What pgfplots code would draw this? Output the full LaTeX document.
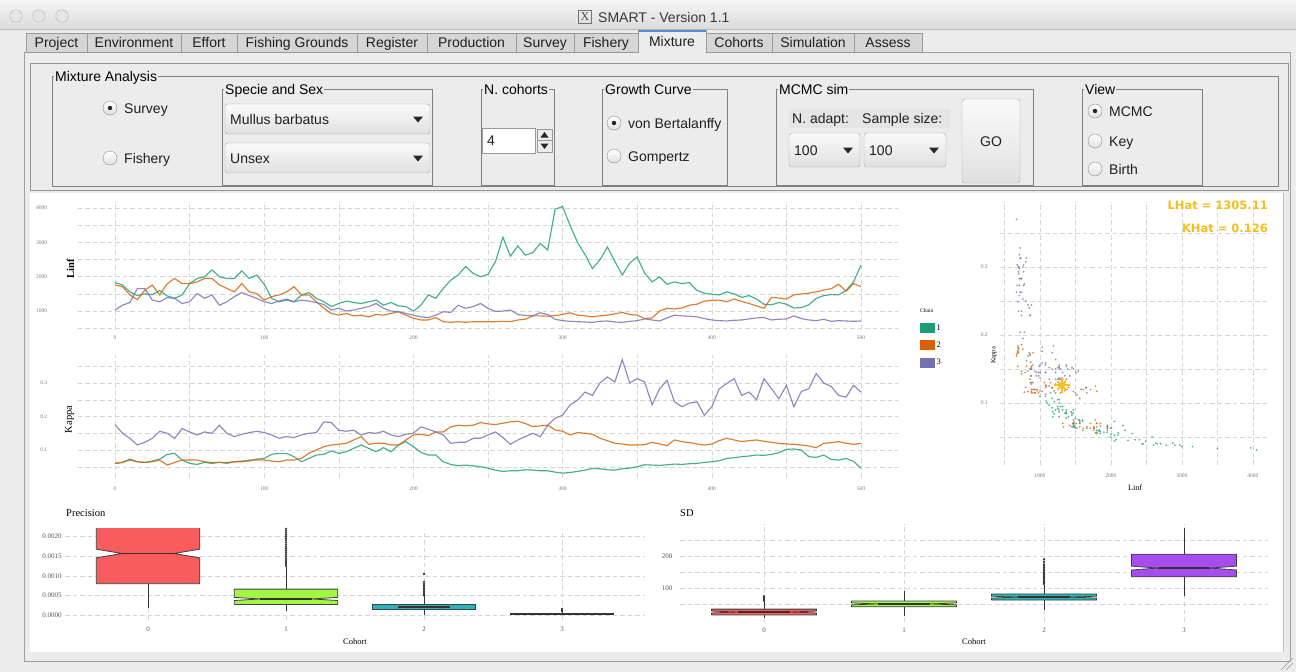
\documentclass[border=0pt]{standalone}
\usepackage{fontspec}
\setmainfont{Liberation Sans}
\newfontfamily\chartfont{Liberation Serif}
\newfontfamily\hatfont{DejaVu Sans}
\usepackage{pgfplots}
\usepackage{pgfplotstable}
\pgfplotsset{compat=1.18}

\definecolor{winbg}{HTML}{ECECEC}
\definecolor{cA}{HTML}{1B9E77}
\definecolor{cB}{HTML}{D95F02}
\definecolor{cC}{HTML}{7570B3}
\definecolor{gridc}{HTML}{D6D6D6}
\definecolor{tickc}{HTML}{7A7A7A}
\definecolor{hatc}{HTML}{F5BE19}
\definecolor{b0}{HTML}{F85C5C}
\definecolor{b1}{HTML}{A3F544}
\definecolor{b2}{HTML}{2CB5B5}
\definecolor{b3}{HTML}{A64DF0}
\definecolor{tabblue}{HTML}{4F8FDB}

\newcommand{\guif}{\fontsize{14}{16}\selectfont}
\newcommand{\gtext}[3]{\node[font=\guif, inner sep=0pt, anchor=base west, text=black!88] at ({#1},{-(#2)-5}) {#3};}
\newcommand{\gctext}[3]{\node[font=\guif, inner sep=0pt, anchor=base, text=black!88] at ({#1},{-(#2)-5}) {#3};}
\newcommand{\radio}[3]{\draw[black!45, top color=white, bottom color=black!12] (#1,-#2) circle (7);
  \ifnum#3=1 \fill[black!85] (#1,-#2) circle (2.2);\fi}
\newcommand{\combo}[5]{%
  \draw[black!35, rounded corners=3pt, top color=black!2, bottom color=black!12] (#1,-#2) rectangle (#3,-#4);
  \gtext{#1+5}{(#2+#4)/2}{#5}
  \fill[black!85] ({#3-17},{-(#2+#4)/2+2.5}) -- ({#3-7},{-(#2+#4)/2+2.5}) -- ({#3-12},{-(#2+#4)/2-3.5}) -- cycle;}

\pgfplotsset{
  gg/.style={
    scale only axis, axis line style={draw=none},
    major tick length=0pt, minor tick length=0pt,
    grid=both,
    major grid style={gridc, dash pattern=on 4.5pt off 3pt, line width=0.55pt},
    minor grid style={gridc, dash pattern=on 4.5pt off 3pt, line width=0.45pt},
    /pgf/number format/assume math mode=true,
    /pgf/number format/1000 sep={},
    tick label style={font=\chartfont\fontsize{5.5}{6}\selectfont, text=tickc},
  },
}

\pgfplotstableread{
it L1 L2 L3 K1 K2 K3
0 1835 1760 1030 0.060 0.060 0.176
5 1760 1710 1170 0.063 0.063 0.150
10 1560 1470 1250 0.073 0.070 0.135
15 1450 1330 1660 0.065 0.065 0.115
20 1500 1610 1650 0.063 0.063 0.123
25 1480 1760 1320 0.067 0.065 0.135
30 1600 1470 1270 0.073 0.070 0.156
35 1440 1800 1390 0.087 0.055 0.150
40 1370 1950 1370 0.090 0.063 0.135
45 1470 1800 1220 0.070 0.070 0.164
50 1800 1800 1270 0.060 0.070 0.154
55 1950 1850 1510 0.057 0.070 0.145
60 2000 1950 1370 0.063 0.065 0.154
65 2200 1950 1470 0.060 0.063 0.150
70 2000 1760 1170 0.063 0.063 0.174
75 1950 1660 1270 0.060 0.063 0.150
80 1950 1560 1420 0.065 0.065 0.140
85 2170 1800 1540 0.067 0.065 0.147
90 1950 1560 1450 0.067 0.070 0.152
95 2050 1510 1370 0.073 0.070 0.156
100 1780 1320 1270 0.075 0.070 0.152
105 1370 1420 1220 0.087 0.067 0.145
110 1270 1470 1290 0.090 0.065 0.135
115 1320 1560 1350 0.090 0.070 0.140
120 1270 1710 1270 0.080 0.070 0.137
125 1470 1470 1320 0.065 0.075 0.145
130 1540 1470 1290 0.075 0.090 0.150
135 1370 1270 1250 0.085 0.100 0.152
140 1270 1080 1190 0.087 0.110 0.184
145 1130 930 1030 0.097 0.115 0.182
150 1220 880 1080 0.090 0.117 0.159
155 1290 930 1000 0.095 0.120 0.156
160 1250 860 1030 0.105 0.130 0.159
165 1220 880 1080 0.115 0.140 0.145
170 1270 830 1130 0.105 0.117 0.152
175 1320 900 1220 0.095 0.120 0.150
180 1170 880 1080 0.107 0.120 0.156
185 1250 930 1000 0.095 0.115 0.145
190 1150 980 980 0.115 0.115 0.140
195 1130 880 930 0.125 0.130 0.147
200 1000 790 880 0.110 0.145 0.150
205 1170 740 830 0.093 0.147 0.169
210 1470 740 810 0.085 0.143 0.162
215 1370 810 880 0.085 0.154 0.154
220 1660 690 980 0.065 0.154 0.145
225 1900 670 960 0.057 0.169 0.120
230 2050 690 1170 0.053 0.174 0.123
235 2300 670 1080 0.055 0.172 0.123
240 2100 690 1130 0.053 0.174 0.135
245 2000 690 1220 0.050 0.182 0.135
250 2070 690 1080 0.046 0.178 0.145
255 2440 690 990 0.040 0.176 0.154
260 3150 700 1000 0.036 0.180 0.137
265 2600 690 1030 0.038 0.184 0.117
270 2900 740 900 0.038 0.186 0.130
275 2630 760 870 0.041 0.179 0.140
280 2700 860 860 0.040 0.170 0.150
285 2970 860 950 0.038 0.172 0.140
290 2780 850 900 0.038 0.174 0.174
295 3970 870 760 0.034 0.160 0.195
300 4050 900 720 0.031 0.156 0.204
305 3500 950 700 0.033 0.145 0.235
310 3000 880 690 0.036 0.152 0.249
315 2650 860 680 0.040 0.150 0.273
320 2240 830 670 0.045 0.147 0.263
325 2490 860 700 0.044 0.135 0.300
330 2870 880 710 0.041 0.128 0.318
335 2450 920 680 0.040 0.120 0.303
340 2050 960 670 0.044 0.118 0.370
345 2400 900 700 0.046 0.115 0.300
350 2580 880 720 0.050 0.115 0.313
355 2100 780 770 0.056 0.116 0.303
360 1850 800 740 0.055 0.123 0.235
365 2000 1000 710 0.054 0.118 0.283
370 1780 1080 800 0.056 0.113 0.308
375 1850 1060 880 0.058 0.130 0.244
380 1800 1090 860 0.057 0.125 0.229
385 1830 1170 850 0.059 0.122 0.240
390 1600 1200 830 0.060 0.118 0.244
395 1520 1290 780 0.063 0.115 0.204
400 1490 1310 740 0.065 0.118 0.229
405 1470 1320 720 0.068 0.128 0.283
410 1560 1270 710 0.075 0.135 0.298
415 1500 1350 730 0.077 0.130 0.313
420 1400 1280 740 0.080 0.125 0.263
425 1450 1220 770 0.082 0.128 0.273
430 1350 1150 800 0.085 0.130 0.250
435 1200 1080 810 0.084 0.126 0.313
440 1180 1400 740 0.087 0.123 0.283
445 1250 1380 760 0.092 0.120 0.253
450 1200 1350 770 0.102 0.118 0.293
455 1090 1470 860 0.103 0.117 0.229
460 1100 1500 780 0.100 0.115 0.275
465 1180 1520 740 0.080 0.112 0.283
470 1370 1560 720 0.078 0.107 0.328
475 1450 1610 760 0.085 0.120 0.300
480 1480 1650 700 0.072 0.122 0.290
485 1470 1780 720 0.070 0.125 0.263
490 1600 1580 710 0.075 0.120 0.258
495 1850 1800 700 0.066 0.117 0.293
500 2340 1710 710 0.046 0.120 0.273
}\chains

\begin{document}
\begin{tikzpicture}[x=1pt,y=1pt]
\useasboundingbox (0,0) rectangle (1296,-672);
\fill[winbg] (0,0) rectangle (1296,-672);
% title bar
\shade[top color=black!4, bottom color=black!14] (0,0) rectangle (1296,-29);
\draw[black!28] (0,-29.5) -- (1296,-29.5);
\foreach \cx in {16,39,62} {\draw[black!25, fill=black!10, line width=0.6pt] (\cx,-16) circle (6.2);}
\node[draw=black!55, line width=0.6pt, inner sep=0pt, minimum width=13pt, minimum height=13pt, font=\chartfont\fontsize{12}{12}\selectfont, text=black!70] at (585,-17) {X};
\node[anchor=base west, inner sep=0pt, font=\guif, text=black!78] at (598,-22) {SMART - Version 1.1};
% content panel
\draw[black!38, fill=winbg] (24,-52.5) rectangle (1290,-661);
% tabs
\foreach \a/\b/\t in {26/87/Project,87/181/Environment,181/237/Effort,237/357/Fishing Grounds,357/427/Register,427/516/Production,516/574/Survey,574/638/Fishery,706/772/Cohorts,772/854/Simulation,854/922/Assess}{
  \draw[black!40, fill=black!16] (\a,-33) rectangle (\b,-52.5);
  \gctext{(\a+\b)/2}{42.5}{\t}
}
\fill[winbg] (638,-30) rectangle (706,-53.5);
\draw[black!40] (638,-53) -- (638,-30) -- (706,-30) -- (706,-53);
\draw[tabblue, line width=1.6pt] (638.5,-30.8) -- (705.5,-30.8);
\gctext{672}{41.5}{Mixture}
% control frames
\draw[black!42] (30,-63) rectangle (1288,-190);
\draw[black!50] (52,-76) rectangle (1278,-186);
\node[fill=winbg, inner sep=1pt, anchor=base west, font=\guif] at (54,-81) {Mixture Analysis};
\foreach \a/\b/\t in {222/432/Specie and Sex,481/554/N. cohorts,602/727/Growth Curve,776/1033/MCMC sim,1082/1202/View}{
  \draw[black!50] (\a,-89.5) rectangle (\b,-185);
  \node[fill=winbg, inner sep=1pt, anchor=base west, font=\guif] at ({\a+2},-94.5) {\t};
}
\radio{110}{108}{1}\gtext{124}{108}{Survey}
\radio{110}{158}{0}\gtext{124}{158}{Fishery}
\radio{614}{123}{1}\gtext{628}{123}{von Bertalanffy}
\radio{614}{156}{0}\gtext{628}{156}{Gompertz}
\radio{1095}{111}{1}\gtext{1109}{111}{MCMC}
\radio{1095}{141}{0}\gtext{1109}{141}{Key}
\radio{1095}{169}{0}\gtext{1109}{169}{Birth}
\combo{225}{104}{430}{134}{Mullus barbatus}
\combo{225}{143}{430}{173}{Unsex}
\combo{789}{133}{860}{167}{100}
\combo{864}{133}{946}{167}{100}
% spinner
\draw[black!40, fill=white] (482,-128) rectangle (535,-153);
\gtext{487}{140.5}{4}
\draw[black!40, fill=black!8] (537,-129) rectangle (552,-140.5);
\draw[black!40, fill=black!8] (537,-140.5) rectangle (552,-152);
\fill[black!85] (540.5,-137.5) -- (548.5,-137.5) -- (544.5,-132) -- cycle;
\fill[black!85] (540.5,-143.5) -- (548.5,-143.5) -- (544.5,-149) -- cycle;
% MCMC sim labels and GO
\fill[black!10] (789,-109) rectangle (950,-128);
\gtext{792}{118.5}{N. adapt:}
\gtext{862}{118.5}{Sample size:}
\draw[black!35, rounded corners=3pt, top color=black!2, bottom color=black!12] (962,-99) rectangle (1020,-183);
\gctext{991}{141}{GO}
% plot area
\fill[white] (30,-193) rectangle (1283,-652);
\draw[black!25] (1283,-193) -- (1283,-652);
\draw[black!40] (1281,-670) -- (1293,-658) (1286,-670) -- (1293,-663);

% ---------- Linf trace ----------
\begin{axis}[gg, at={(77.7pt,-329.9pt)}, anchor=south west, width=820.6pt, height=127.9pt,
  xmin=-25, xmax=525, ymin=450, ymax=4180,
  xtick={0,100,...,500}, minor xtick={50,150,250,350,450},
  ytick={1000,2000,3000,4000}, minor ytick={500,1500,2500,3500},
  yticklabel shift=27pt, xticklabel shift=2pt,
  ylabel={\bfseries Linf},
  ylabel style={at={(axis description cs:0,0.5)}, anchor=south, xshift=-3pt, font=\chartfont\fontsize{10.5}{11}\selectfont},
  legend style={at={(axis description cs:1.0264,0.054)}, anchor=north west, draw=none, fill=none,
    font=\chartfont\fontsize{8.5}{9}\selectfont, row sep=7pt, inner sep=0pt, nodes={inner sep=1.5pt}},
  legend cell align=left,
  legend image code/.code={\fill[#1] (0pt,-5pt) rectangle (15pt,5pt);}]
\addlegendimage{fill=cA, draw=none}\addlegendentry{1}
\addlegendimage{fill=cB, draw=none}\addlegendentry{2}
\addlegendimage{fill=cC, draw=none}\addlegendentry{3}
\addplot[forget plot, cA, opacity=0.82, line width=1.15pt] table[x=it,y=L1] {\chains};
\addplot[forget plot, cB, opacity=0.82, line width=1.15pt] table[x=it,y=L2] {\chains};
\addplot[forget plot, cC, opacity=0.82, line width=1.15pt] table[x=it,y=L3] {\chains};
\end{axis}
\node[anchor=west, inner sep=0pt, font=\chartfont\fontsize{5.5}{6}\selectfont] at (920,-311) {Chain};

% ---------- Kappa trace ----------
\begin{axis}[gg, at={(77.7pt,-477.8pt)}, anchor=south west, width=820.6pt, height=122.9pt,
  xmin=-25, xmax=525, ymin=0.017, ymax=0.384,
  xtick={0,100,...,500}, minor xtick={50,150,250,350,450},
  ytick={0.1,0.2,0.3}, minor ytick={0.05,0.15,0.25,0.35},
  yticklabel shift=27pt, xticklabel shift=6pt,
  ylabel={Kappa},
  ylabel style={at={(axis description cs:0,0.5)}, anchor=south, xshift=-3pt, font=\chartfont\fontsize{10.5}{11}\selectfont}]
\addplot[cA, opacity=0.82, line width=1.15pt] table[x=it,y=K1] {\chains};
\addplot[cB, opacity=0.82, line width=1.15pt] table[x=it,y=K2] {\chains};
\addplot[cC, opacity=0.82, line width=1.15pt] table[x=it,y=K3] {\chains};
\end{axis}

% ---------- scatter ----------
\begin{axis}[gg, at={(1000.2pt,-464.9pt)}, anchor=south west, width=269.8pt, height=262.9pt,
  xmin=440, xmax=4240, ymin=0.009, ymax=0.3956,
  xtick={1000,2000,3000,4000}, minor xtick={500,1500,2500,3500},
  ytick={0.1,0.2,0.3}, minor ytick={0.05,0.15,0.25,0.35},
  yticklabel shift=9pt, xticklabel shift=5pt,
  xlabel={Linf}, ylabel={Kappa},
  xlabel style={at={(axis description cs:0.5,0)}, anchor=center, yshift=-23pt, font=\chartfont\fontsize{8}{8}\selectfont},
  ylabel style={at={(axis description cs:0,0.5)}, anchor=south, xshift=-22pt, font=\chartfont\fontsize{6.5}{7}\selectfont}]
\addplot[only marks, mark=*, mark size=0.75pt, cA, opacity=0.55] table[x=L1,y=K1] {\chains};
\addplot[only marks, mark=*, mark size=0.75pt, cB, opacity=0.55] table[x=L2,y=K2] {\chains};
\addplot[only marks, mark=*, mark size=0.75pt, cC, opacity=0.55] table[x=L3,y=K3] {\chains};
\addplot[only marks, mark=+, mark size=8pt, hatc, line width=2pt] coordinates {(1305.11,0.126)};
\addplot[only marks, mark=x, mark size=6pt, hatc, line width=2pt] coordinates {(1305.11,0.126)};
\end{axis}
\node[anchor=east, inner sep=0pt, font=\hatfont\bfseries\fontsize{11.5}{12}\selectfont, text=hatc] at (1268,-205) {LHat = 1305.11};
\node[anchor=east, inner sep=0pt, font=\hatfont\bfseries\fontsize{11.5}{12}\selectfont, text=hatc] at (1268,-228) {KHat = 0.126};

% ---------- Precision boxplot ----------
\node[anchor=west, inner sep=0pt, font=\chartfont\fontsize{10.5}{11}\selectfont] at (66,-513) {Precision};
\begin{axis}[gg, at={(65.2pt,-619.9pt)}, anchor=south west, width=579.6pt, height=91.1pt,
  xmin=-0.6, xmax=3.6, ymin=-0.000125, ymax=0.0022,
  xtick={0,1,2,3}, ytick={0,0.0005,0.001,0.0015,0.002},
  scaled y ticks=false,
  yticklabel style={/pgf/number format/fixed,/pgf/number format/fixed zerofill,/pgf/number format/precision=4},
  tick label style={font=\chartfont\fontsize{7}{7}\selectfont, text=black!65},
  xticklabel shift=3pt,
  xlabel={Cohort},
  xlabel style={at={(axis description cs:0.5,0)}, anchor=center, yshift=-22pt, font=\chartfont\fontsize{8.5}{9}\selectfont}]
% cohort 0
\addplot[black!80, line width=0.9pt] coordinates {(0,0.00018) (0,0.0008)};
\addplot[fill=b0, draw=black!75, line width=0.8pt] coordinates {(-0.375,0.0008) (0.375,0.0008) (0.375,0.00146) (0.1875,0.00157) (0.375,0.00168) (0.375,0.003) (-0.375,0.003) (-0.375,0.00168) (-0.1875,0.00157) (-0.375,0.00146) (-0.375,0.0008)};
\addplot[black!80, line width=1.8pt] coordinates {(-0.1875,0.00157) (0.1875,0.00157)};
% cohort 1
\addplot[black!80, line width=0.9pt] coordinates {(1,0.00011) (1,0.00122)};
\addplot[only marks, mark=*, mark size=0.9pt, black!80] coordinates {(1,0.00125) (1,0.0013) (1,0.00135) (1,0.0014) (1,0.00145) (1,0.0015) (1,0.00155) (1,0.0016) (1,0.00165) (1,0.0017) (1,0.00175) (1,0.0018) (1,0.00185) (1,0.0019) (1,0.00195) (1,0.002) (1,0.00205) (1,0.0021) (1,0.00215) (1,0.0022)};
\addplot[fill=b1, draw=black!75, line width=0.8pt] coordinates {(0.625,0.00027) (1.375,0.00027) (1.375,0.00037) (1.1875,0.00041) (1.375,0.00045) (1.375,0.00066) (0.625,0.00066) (0.625,0.00045) (0.8125,0.00041) (0.625,0.00037) (0.625,0.00027)};
\addplot[black!80, line width=1.8pt] coordinates {(0.8125,0.00041) (1.1875,0.00041)};
% cohort 2
\addplot[black!80, line width=0.9pt] coordinates {(2,0.0) (2,0.00048)};
\addplot[only marks, mark=*, mark size=0.9pt, black!80] coordinates {(2,0.0005) (2,0.00053) (2,0.00056) (2,0.0006) (2,0.00064) (2,0.00068) (2,0.00072) (2,0.00076) (2,0.0008) (2,0.00085) (2,0.00105)};
\addplot[fill=b2, draw=black!75, line width=0.8pt] coordinates {(1.625,0.00014) (2.375,0.00014) (2.375,0.00028) (1.625,0.00028) (1.625,0.00014)};
\addplot[black!80, line width=1.8pt] coordinates {(1.8125,0.00021) (2.1875,0.00021)};
% cohort 3
\addplot[black!80, line width=0.9pt] coordinates {(3,-0.00001) (3,0.00008)};
\addplot[only marks, mark=*, mark size=0.9pt, black!80] coordinates {(3,0.0001) (3,0.00012) (3,0.00015)};
\addplot[fill=b3, draw=black!80, line width=0.9pt] coordinates {(2.625,0.00001) (3.375,0.00001) (3.375,0.00004) (2.625,0.00004) (2.625,0.00001)};
\addplot[black!80, line width=1.6pt] coordinates {(2.8125,0.000025) (3.1875,0.000025)};
\end{axis}

% ---------- SD boxplot ----------
\node[anchor=west, inner sep=0pt, font=\chartfont\fontsize{10.5}{11}\selectfont] at (680,-513) {SD};
\begin{axis}[gg, at={(680pt,-621.7pt)}, anchor=south west, width=588pt, height=97.9pt,
  xmin=-0.6, xmax=3.6, ymin=-3, ymax=300,
  xtick={0,1,2,3}, ytick={100,200}, minor ytick={50,150,250},
  tick label style={font=\chartfont\fontsize{7}{7}\selectfont, text=black!65},
  yticklabel shift=4pt, xticklabel shift=3pt,
  xlabel={Cohort},
  xlabel style={at={(axis description cs:0.5,0)}, anchor=center, yshift=-20pt, font=\chartfont\fontsize{8.5}{9}\selectfont}]
% cohort 0
\addplot[black!80, line width=0.9pt] coordinates {(0,8) (0,60)};
\addplot[only marks, mark=*, mark size=0.9pt, black!80] coordinates {(0,62) (0,65) (0,68) (0,72) (0,76)};
\addplot[fill=b0, draw=black!75, line width=0.8pt] coordinates {(-0.375,18) (0.375,18) (0.375,24) (0.1875,27) (0.375,30) (0.375,36) (-0.375,36) (-0.375,30) (-0.1875,27) (-0.375,24) (-0.375,18)};
\addplot[black!80, line width=1.8pt] coordinates {(-0.1875,27) (0.1875,27)};
% cohort 1
\addplot[black!80, line width=0.9pt] coordinates {(1,14) (1,92)};
\addplot[fill=b1, draw=black!75, line width=0.8pt] coordinates {(0.625,43) (1.375,43) (1.375,49) (1.1875,52) (1.375,55) (1.375,61) (0.625,61) (0.625,55) (0.8125,52) (0.625,49) (0.625,43)};
\addplot[black!80, line width=1.8pt] coordinates {(0.8125,52) (1.1875,52)};
% cohort 2
\addplot[black!80, line width=0.9pt] coordinates {(2,33) (2,111)};
\addplot[only marks, mark=*, mark size=0.9pt, black!80] coordinates {(2,114) (2,118) (2,122) (2,126) (2,130) (2,134) (2,138) (2,142) (2,146) (2,150) (2,155) (2,160) (2,165) (2,170) (2,175) (2,182) (2,190)};
\addplot[fill=b2, draw=black!75, line width=0.8pt] coordinates {(1.625,64) (2.375,64) (2.375,70) (2.1875,73) (2.375,76) (2.375,83) (1.625,83) (1.625,76) (1.8125,73) (1.625,70) (1.625,64)};
\addplot[black!80, line width=1.8pt] coordinates {(1.8125,73) (2.1875,73)};
% cohort 3
\addplot[black!80, line width=0.9pt] coordinates {(3,78) (3,287)};
\addplot[fill=b3, draw=black!75, line width=0.8pt] coordinates {(2.625,136) (3.375,136) (3.375,157) (3.1875,163) (3.375,169) (3.375,206) (2.625,206) (2.625,169) (2.8125,163) (2.625,157) (2.625,136)};
\addplot[black!80, line width=1.8pt] coordinates {(2.8125,163) (3.1875,163)};
\end{axis}
\end{tikzpicture}
\end{document}
